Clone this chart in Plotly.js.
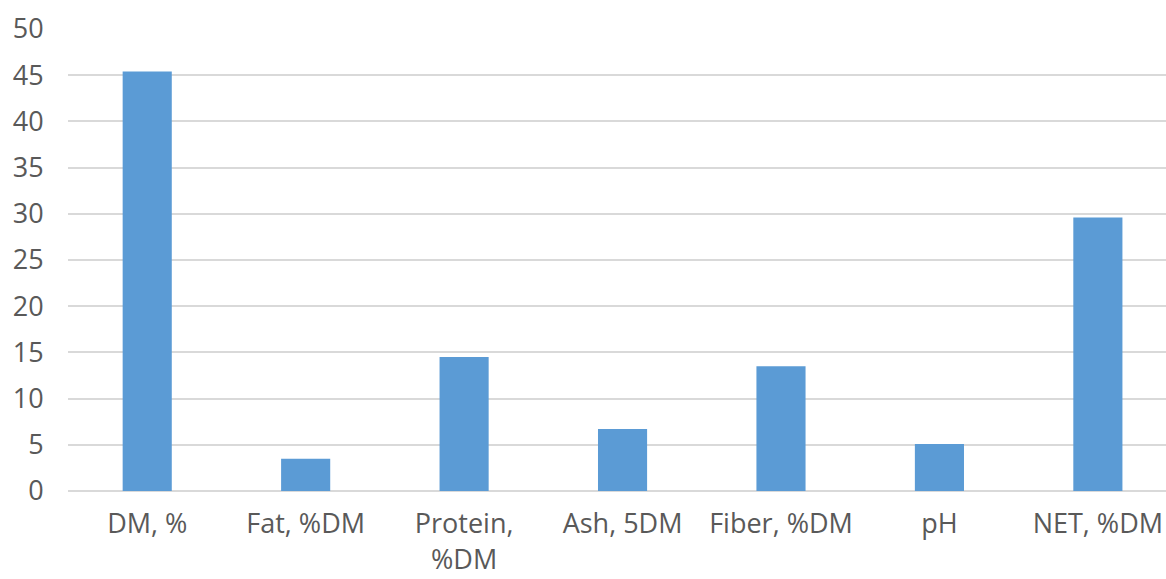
<!DOCTYPE html>
<html><head><meta charset="utf-8">
<script src="https://cdn.plot.ly/plotly-3.0.1.min.js"></script>
<style>html,body{margin:0;padding:0;background:#fff;}#chart{width:1166px;height:579px;}</style>
</head><body><div id="chart"></div>
<script>
const categories = ["DM, %", "Fat, %DM", "Protein,<br>%DM", "Ash, 5DM", "Fiber, %DM", "pH", "NET, %DM"];
const values = [45.4, 3.5, 14.5, 6.7, 13.5, 5.1, 29.6];
const yTicks = [0, 5, 10, 15, 20, 25, 30, 35, 40, 45, 50];

const font = {family: "'Open Sans', sans-serif", size: 27, color: "#595959"};
Plotly.newPlot("chart", [{
  type: "bar", x: categories, y: values,
  marker: {color: "#5b9bd5"}, hoverinfo: "none"
}], {
  width: 1166, height: 579,
  margin: {l: 68, r: 0, t: 29, b: 88},
  paper_bgcolor: "#fff", plot_bgcolor: "#fff",
  bargap: 0.69,
  showlegend: false,
  font: font,
  xaxis: {type: "category", range: [-0.5, 6.43], showgrid: false, zeroline: false, showline: false,
    ticks: "outside", ticklen: 9, tickcolor: "rgba(0,0,0,0)", tickfont: font},
  yaxis: {range: [0, 50], tickvals: yTicks, showgrid: true, gridcolor: "#d9d9d9", gridwidth: 2,
    zeroline: true, zerolinecolor: "#d9d9d9", zerolinewidth: 2, showline: false,
    ticks: "outside", ticklen: 18, tickcolor: "rgba(0,0,0,0)", tickfont: font}
}, {staticPlot: true});
</script></body></html>
